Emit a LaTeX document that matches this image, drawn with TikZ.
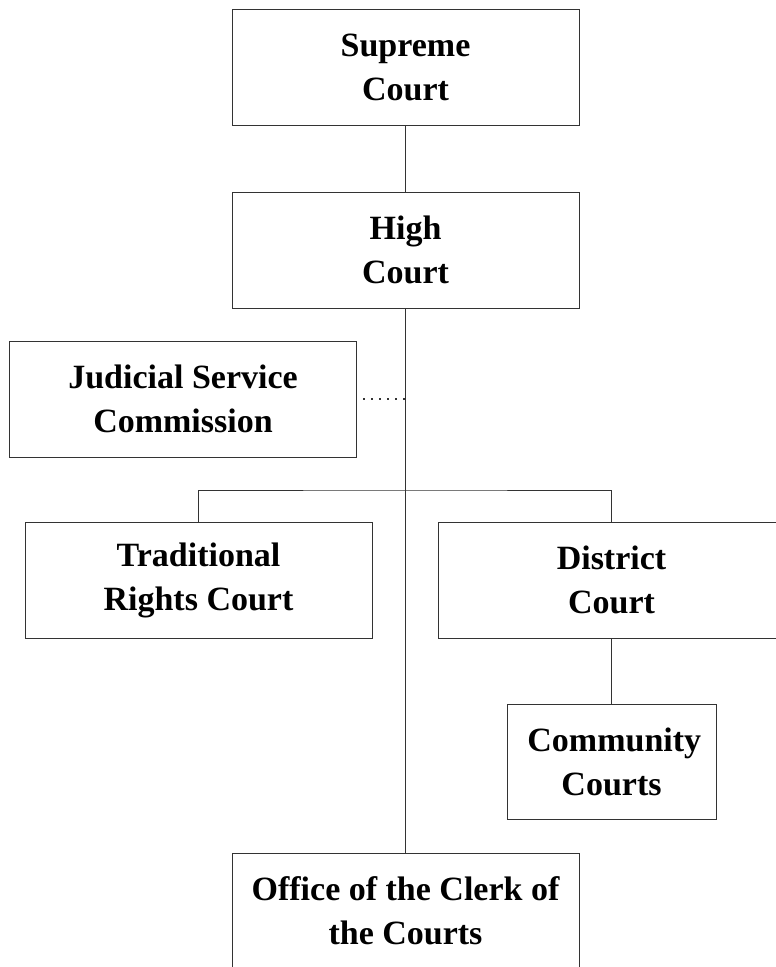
\documentclass[tikz,border=0pt]{standalone}
\usepackage{fontspec}
\setmainfont{Liberation Serif}
\usetikzlibrary{positioning}

\begin{document}
\begin{tikzpicture}[x=0.75pt,y=-0.75pt,
  court/.style={draw=black!80, line width=0.75pt, fill=white, minimum width=347*0.75pt,
    minimum height=116*0.75pt, align=center, inner sep=0pt,
    font=\fontsize{25.5}{33}\selectfont\bfseries},
  link/.style={draw=black!80, line width=0.75pt}]
\useasboundingbox (0,0) rectangle (775,967);
\node[court] (supreme) at (405.5,67) {Supreme\\Court};
\node[court] (high) at (405.5,250) {High\\Court};
\node[court] (jsc) at (183,399) {Judicial Service\\Commission};
\node[court] (trc) at (198.5,580) {Traditional\\Rights Court};
\node[court] (district) at (611.5,580) {District\\Court};
\node[court, minimum width=209*0.75pt, minimum height=115*0.75pt] (community) at (611.5,761.5) {\,Community\\Courts};
\node[court] (office) at (405.5,911) {Office of the Clerk of\\the Courts};
\coordinate (fork) at (405.5,490);
%\fill (fork) circle (3pt);
\draw[link] (supreme.south) -- (high.north);
\draw[link] (high.south) -- (office.north);
\draw[link] (trc.north) |- (fork) -| (district.north);
\draw[link] (district.south) -- (community.north);
\draw[link, line width=1.2pt, dash pattern=on 1.2pt off 4.8pt, shorten <=4.5pt]
  (jsc.east) -- (jsc.east -| high.south);
\end{tikzpicture}
\end{document}
